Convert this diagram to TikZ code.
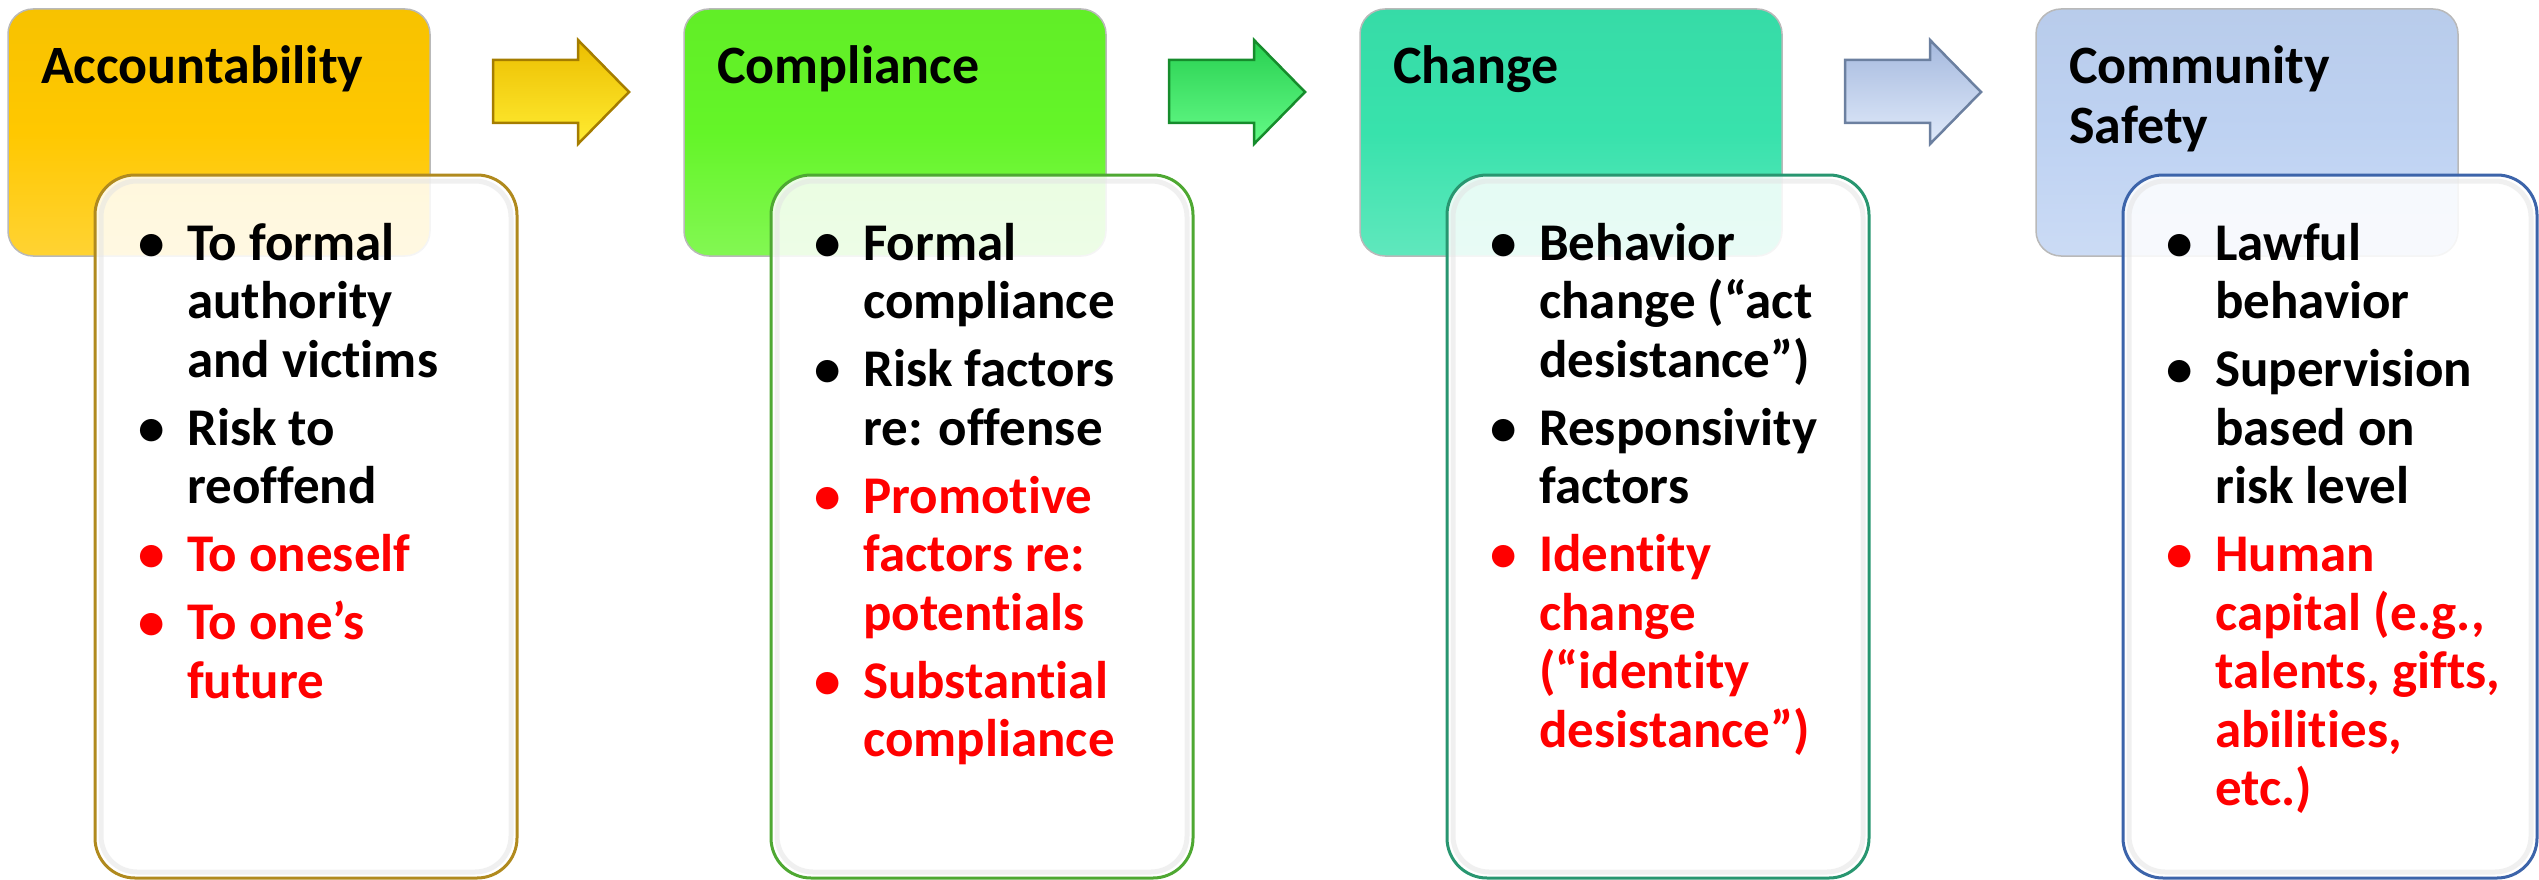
\documentclass[tikz,border=0pt]{standalone}
\usepackage{fontspec}
\setmainfont{Carlito}[Ligatures=NoCommon]
\definecolor{hA}{RGB}{255,200,0}
\definecolor{hB}{RGB}{100,245,40}
\definecolor{hC}{RGB}{56,226,172}
\definecolor{hD}{RGB}{190,210,242}
\definecolor{bA}{RGB}{176,138,30}
\definecolor{bB}{RGB}{78,168,50}
\definecolor{bC}{RGB}{40,150,112}
\definecolor{bD}{RGB}{60,100,170}
\definecolor{aAt}{RGB}{236,190,0}
\definecolor{aAl}{RGB}{255,236,50}
\definecolor{aAb}{RGB}{165,125,0}
\definecolor{aBt}{RGB}{40,208,80}
\definecolor{aBl}{RGB}{100,250,135}
\definecolor{aBb}{RGB}{22,140,44}
\definecolor{aCt}{RGB}{165,185,222}
\definecolor{aCl}{RGB}{224,234,250}
\definecolor{aCb}{RGB}{108,128,160}
\definecolor{txtred}{RGB}{255,0,0}
\newcommand\bk{\makebox[72pt][c]{\textbullet}}
\newcommand\rk{\makebox[72pt][c]{\color{txtred}\textbullet}}
\newcommand\Rd[1]{\textcolor{txtred}{#1}}
\begin{document}
\begin{tikzpicture}[x=1pt,y=-1pt,
  hdr/.style={rounded corners=25pt, minimum width=422pt, minimum height=247pt, inner sep=0pt, draw=gray!55, line width=1.5pt},
  detail/.style={rounded corners=40pt, minimum width=422pt, minimum height=703pt, inner sep=0pt, fill=white, fill opacity=0.86, line width=3pt},
  inner/.style={rounded corners=36pt, minimum width=410pt, minimum height=691pt, inner sep=0pt, draw=gray!22, line width=5pt, draw opacity=0.5},
  ttl/.style={anchor=base west, inner sep=0pt, font=\fontsize{54}{60}\selectfont\bfseries},
  lst/.style={anchor=base west, inner sep=0pt, font=\fontsize{53}{58.5}\selectfont\bfseries},
  blockarrow/.style={line width=2.5pt, line join=miter}
]
\useasboundingbox (0,0) rectangle (2539,880);

% headers
\node[hdr, top color=hA!97!black, bottom color=hA!80!white, middle color=hA] (h1) at (219,132.5) {};
\node[hdr, top color=hB!97!black, bottom color=hB!80!white, middle color=hB] (h2) at (895,132.5) {};
\node[hdr, top color=hC!97!black, bottom color=hC!80!white, middle color=hC] (h3) at (1571,132.5) {};
\node[hdr, top color=hD!97!black, bottom color=hD!80!white, middle color=hD] (h4) at (2247,132.5) {};

\node[ttl] (t1) at (41,84) {Accountability};
\node[ttl] (t2) at (717,84) {Compliance};
\node[ttl] (t3) at (1393,84) {Change};
\node[ttl] (t4) at (2069,84) {\begin{tabular}[t]{@{}l@{}}Community\\Safety\end{tabular}};

% block arrows
\path[blockarrow, draw=aAb, top color=aAt, bottom color=aAl]
  (493,60) -- (578,60) -- (578,40) -- (629,92) -- (578,144) -- (578,123) -- (493,123) -- cycle;
\path[blockarrow, draw=aBb, top color=aBt, bottom color=aBl]
  (1169,60) -- (1254,60) -- (1254,40) -- (1305,92) -- (1254,144) -- (1254,123) -- (1169,123) -- cycle;
\path[blockarrow, draw=aCb, top color=aCt, bottom color=aCl]
  (1845,60) -- (1930,60) -- (1930,40) -- (1981,92) -- (1930,144) -- (1930,123) -- (1845,123) -- cycle;

% detail boxes
\node[detail, draw=bA] (d1) at (306,526.5) {};
\node[detail, draw=bB] (d2) at (982,526.5) {};
\node[detail, draw=bC] (d3) at (1658,526.5) {};
\node[detail, draw=bD, minimum width=414pt] (d4) at (2330,526.5) {};
\node[inner] (i1) at (d1.center) {};
\node[inner] (i2) at (d2.center) {};
\node[inner] (i3) at (d3.center) {};
\node[inner, minimum width=402pt] (i4) at (d4.center) {};

% lists
\node[lst] (l1) at (115,260) {\begin{tabular}[t]{@{}l@{}l@{}}
\bk & To formal\\ & authority\\ & and victims\\[9.5pt]
\bk & Risk to\\ & reoffend\\[9.5pt]
\rk & \Rd{To oneself}\\[9.5pt]
\rk & \Rd{To one’s}\\ & \Rd{future}
\end{tabular}};
\node[lst] (l2) at (791,260) {\begin{tabular}[t]{@{}l@{}l@{}}
\bk & Formal\\ & compliance\\[9.5pt]
\bk & Risk factors\\ & re: offense\\[9.5pt]
\rk & \Rd{Promotive}\\ & \Rd{factors re:}\\ & \Rd{potentials}\\[9.5pt]
\rk & \Rd{Substantial}\\ & \Rd{compliance}
\end{tabular}};
\node[lst] (l3) at (1467,260) {\begin{tabular}[t]{@{}l@{}l@{}}
\bk & Behavior\\ & change (“act\\ & desistance”)\\[9.5pt]
\bk & Responsivity\\ & factors\\[9.5pt]
\rk & \Rd{Identity}\\ & \Rd{change}\\ & \Rd{(“identity}\\ & \Rd{desistance”)}
\end{tabular}};
\node[lst] (l4) at (2143,260) {\begin{tabular}[t]{@{}l@{}l@{}}
\bk & Lawful\\ & behavior\\[9.5pt]
\bk & Supervision\\ & based on\\ & risk level\\[9.5pt]
\rk & \Rd{Human}\\ & \Rd{capital (e.g.,}\\ & \Rd{talents, gifts,}\\ & \Rd{abilities,}\\ & \Rd{etc.)}
\end{tabular}};
\end{tikzpicture}
\end{document}
